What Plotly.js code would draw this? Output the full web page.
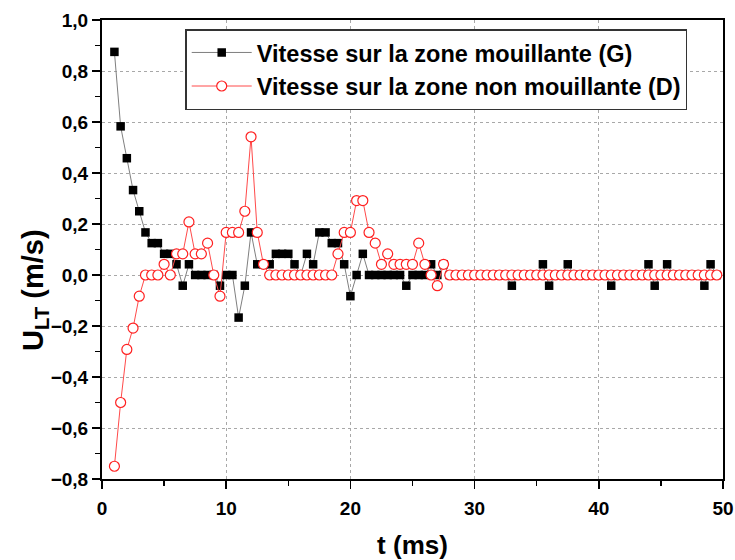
<!DOCTYPE html>
<html>
<head>
<meta charset="utf-8">
<script src="https://cdn.plot.ly/plotly-3.0.1.min.js"></script>
<style>html,body{margin:0;padding:0;background:#fff;}#chart{width:735px;height:560px;}</style>
</head>
<body>
<div id="chart"></div>
<script>
// time (ms)
var t = [1,1.5,2,2.5,3,3.5,4,4.5,5,5.5,6,6.5,7,7.5,8,8.5,9,9.5,10,10.5,11,11.5,12,12.5,13,13.5,14,14.5,15,15.5,16,16.5,17,17.5,18,18.5,19,19.5,20,20.5,21,21.5,22,22.5,23,23.5,24,24.5,25,25.5,26,26.5,27,27.5,28,28.5,29,29.5,30,30.5,31,31.5,32,32.5,33,33.5,34,34.5,35,35.5,36,36.5,37,37.5,38,38.5,39,39.5,40,40.5,41,41.5,42,42.5,43,43.5,44,44.5,45,45.5,46,46.5,47,47.5,48,48.5,49,49.5];

// Vitesse sur la zone mouillante (G)
var uG = [0.875,0.583,0.458,0.333,0.25,0.167,0.125,0.125,0.083,0.083,
          0.042,-0.042,0.042,0,0,0,0,-0.042,0,0,
          -0.167,-0.042,0.167,0.042,0.042,0.042,0.083,0.083,0.083,0.042,
          0,0.083,0.042,0.167,0.167,0.125,0.125,0.042,-0.083,0,
          0.083,0,0,0,0,0,0,-0.042,0,0,
          0,0.042,0,0.042,0,0,0,0,0,0,
          0,0,0,0,-0.042,0,0,0,0,0.042,
          -0.042,0,0,0.042,0,0,0,0,0,0,
          -0.042,0,0,0,0,0,0.042,-0.042,0,0.042,
          0,0,0,0,0,-0.042,0.042,0];

// Vitesse sur la zone non mouillante (D)
var uD = [-0.75,-0.5,-0.292,-0.208,-0.083,0,0,0,0.042,0,
          0.083,0.083,0.208,0.083,0.083,0.125,0,-0.083,0.167,0.167,
          0.167,0.25,0.542,0.167,0.042,0,0,0,0,0,
          0,0,0,0,0,0,0.083,0.167,0.167,0.292,
          0.292,0.167,0.125,0.042,0.083,0.042,0.042,0.042,0.042,0.125,
          0.042,0,-0.042,0.042,0,0,0,0,0,0,
          0,0,0,0,0,0,0,0,0,0,
          0,0,0,0,0,0,0,0,0,0,
          0,0,0,0,0,0,0,0,0,0,
          0,0,0,0,0,0,0,0];

var nameG = 'Vitesse sur la zone mouillante (G)';
var nameD = 'Vitesse sur la zone non mouillante (D)';
var xTicks = [0,10,20,30,40,50];
var yTicks = [-0.8,-0.6,-0.4,-0.2,0,0.2,0.4,0.6,0.8,1.0];
var xTitle = 't (ms)';
var yTitle = 'U<sub>LT</sub> (m/s)';

var FONT = 'Liberation Sans, Arial, sans-serif';

var traces = [
  {
    x: t, y: uG, name: nameG, type: 'scatter', mode: 'lines+markers',
    legendgroup: 'g',
    line: {color: '#7f7f7f', width: 1},
    marker: {symbol: 'square', size: 8.5, color: '#000000', line: {width: 0}}
  },
  {
    x: t, y: uD, name: nameD, type: 'scatter', mode: 'lines+markers',
    legendgroup: 'd',
    line: {color: '#ff4a4a', width: 1},
    marker: {symbol: 'circle', size: 10, color: '#ffffff', line: {color: '#ff2020', width: 1.2}}
  }
];

var layout = {
  width: 735, height: 560,
  margin: {l: 102, r: 12, t: 20, b: 81, pad: 0},
  paper_bgcolor: '#ffffff', plot_bgcolor: '#ffffff',
  separators: ',.',
  font: {family: FONT, color: '#000', size: 19},
  showlegend: true,
  legend: {
    x: 0.134, y: 0.98, xanchor: 'left', yanchor: 'top',
    bgcolor: '#ffffff', bordercolor: '#333333', borderwidth: 1.5,
    font: {family: FONT, size: 23.5, color: '#000', weight: 'bold'},
    itemwidth: 60, tracegroupgap: 0
  },
  xaxis: {
    range: [0, 50], tickvals: xTicks, ticktext: xTicks.map(String),
    showline: true, linecolor: '#000', linewidth: 2, mirror: true,
    ticks: 'outside', ticklen: 8, tickwidth: 1.5, tickcolor: '#000',
    ticklabelstandoff: 3,
    minor: {ticks: 'outside', dtick: 5, ticklen: 5, tickwidth: 1.5, tickcolor: '#000', showgrid: false},
    showgrid: true, gridcolor: '#a8a8a8', griddash: 'dot', gridwidth: 1,
    zeroline: false,
    tickfont: {family: FONT, size: 19, weight: 'bold'},
    title: {text: xTitle, font: {family: FONT, size: 26, weight: 'bold'}, standoff: 20}
  },
  yaxis: {
    range: [-0.8, 1.0], tickvals: yTicks, tickformat: '.1f',
    showline: true, linecolor: '#000', linewidth: 2, mirror: true,
    ticks: 'outside', ticklen: 8, tickwidth: 1.5, tickcolor: '#000',
    minor: {ticks: 'outside', dtick: 0.1, ticklen: 5, tickwidth: 1.5, tickcolor: '#000', showgrid: false},
    showgrid: true, gridcolor: '#a8a8a8', griddash: 'dot', gridwidth: 1,
    zeroline: false,
    tickfont: {family: FONT, size: 19, weight: 'bold'}
  },
  annotations: [{
    text: yTitle, textangle: -90, showarrow: false,
    xref: 'paper', yref: 'paper',
    x: (35 - 102) / 621, y: (479 - 290) / 459,
    xanchor: 'center', yanchor: 'middle',
    font: {family: FONT, size: 29, weight: 'bold', color: '#000'}
  }]
};

Plotly.newPlot('chart', traces, layout, {displayModeBar: false, staticPlot: true});
</script>
</body>
</html>
